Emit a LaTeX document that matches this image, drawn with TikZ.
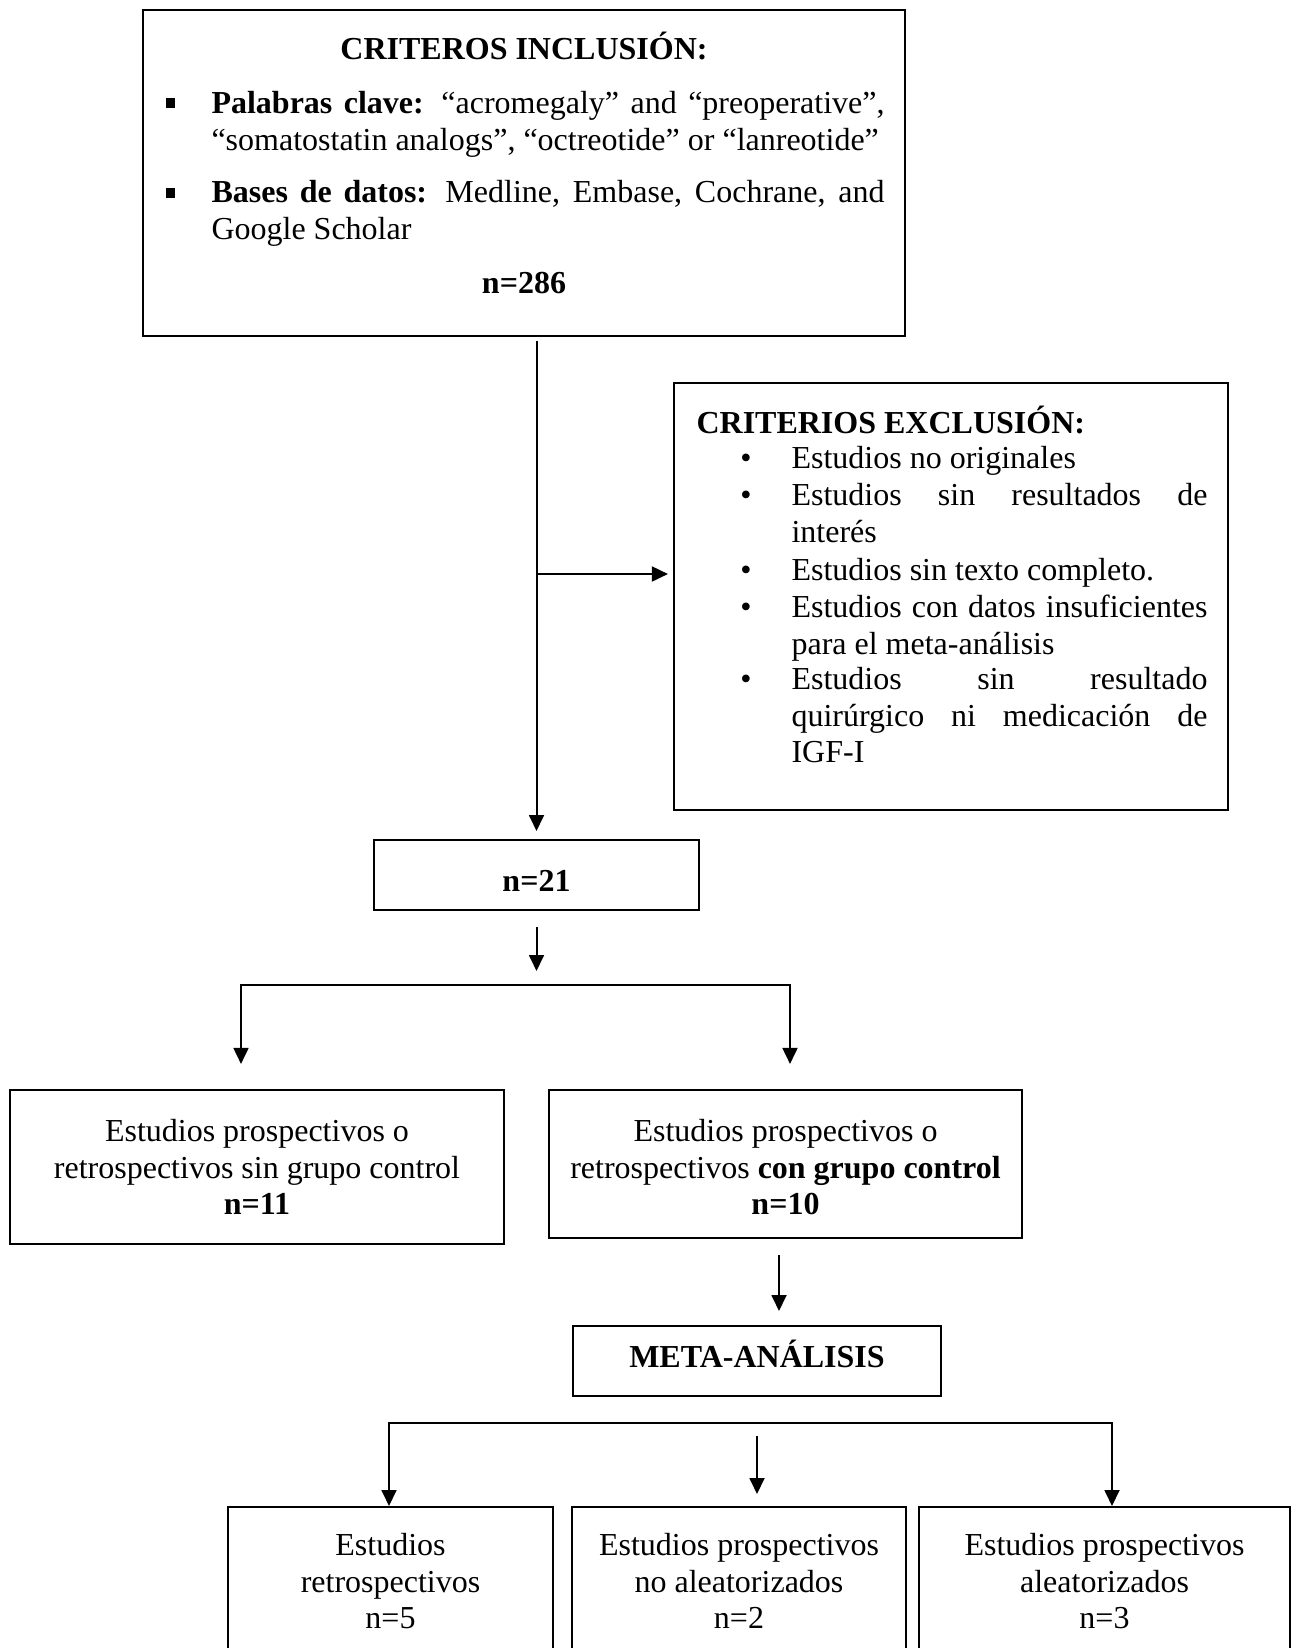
\documentclass[tikz,border=0pt]{standalone}
\usepackage{fontspec}
\setmainfont{Liberation Serif}
\usetikzlibrary{arrows.meta,calc}
\hyphenpenalty=10000
\exhyphenpenalty=10000
\tolerance=10000
\tikzset{
  every node/.style={font=\fontsize{12pt}{13.8pt}\selectfont, inner sep=0pt},
  bx/.style={draw, line width=0.75pt},
  bw/.style={minimum width={#1*0.375pt}},
  bh/.style={minimum height={#1*0.375pt}},
  arr/.style={-{Triangle[length=6pt,width=5.6pt]}, line width=0.75pt},
  para/.style={text width={#1*0.375pt}, align=justify, anchor=north west},
  ctr/.style={align=center, anchor=north}
}
\begin{document}
\begin{tikzpicture}[x=0.375pt,y=-0.375pt]
\useasboundingbox (0,0) rectangle (1292,1648);
\clip (0,0) rectangle (1292,1648);

% ---------- inclusion box
\node[bx, bw=762, bh=325] (inc) at (524,173) {};
\node[anchor=base] (inct) at (524,60) {\bfseries CRITEROS INCLUSIÓN:};
\node (sq1) at (170.5,103) {\rule{3.4pt}{3.4pt}};
\node[para=673] (inc1) at (211,87) {\strut\textbf{Palabras clave:} “acromegaly” and “preoperative”, “somatostatin analogs”, “octreotide” or “lanreotide”};
\node (sq2) at (170.5,193) {\rule{3.4pt}{3.4pt}};
\node[para=673] (inc2) at (211,176) {\strut\textbf{Bases de datos:} Medline, Embase, Cochrane, and Google Scholar};
\node[anchor=base] (n286) at (524,293) {\bfseries n=286};

% ---------- exclusion box
\node[bx, bw=554, bh=427] (exc) at (951,596.5) {};
\node[anchor=base west] (exct) at (696,433) {\bfseries CRITERIOS EXCLUSIÓN:};
\node[anchor=base] (b1) at (746,468) {•};
\node[para=416] (e1) at (791,442) {\strut Estudios no originales};
\node[anchor=base] (b2) at (746,505) {•};
\node[para=416] (e2) at (791,479) {\strut Estudios sin resultados de\linebreak interés};
\node[anchor=base] (b3) at (746,580) {•};
\node[para=416] (e3) at (791,554) {\strut Estudios sin texto completo.};
\node[anchor=base] (b4) at (746,617) {•};
\node[para=416] (e4) at (791,591) {\strut Estudios con datos insuficientes\linebreak para el meta-análisis};
\node[anchor=base] (b5) at (746,689) {•};
\node[para=416] (e5) at (791,663) {\strut Estudios sin resultado\linebreak quirúrgico ni medicación de\linebreak IGF-I};

% ---------- n=21
\node[bx, bw=325, bh=70] (n21) at (536.5,875) {};
\node[anchor=base] (n21t) at (536.5,891) {\bfseries n=21};

% ---------- second level
\node[bx, bw=493.5, bh=154] (lbox) at (257,1167) {};
\node[ctr] (lboxt) at (257,1115) {\strut Estudios prospectivos o\\retrospectivos sin grupo control\\\textbf{n=11}};
\node[bx, bw=473, bh=148] (rbox) at (785.5,1164) {};
\node[ctr] (rboxt) at (785.5,1115) {\strut Estudios prospectivos o\\retrospectivos \textbf{con grupo control}\\\textbf{n=10}};

% ---------- meta
\node[bx, bw=368, bh=70] (meta) at (757,1361) {};
\node[anchor=base] (metat) at (757,1367) {\bfseries META-ANÁLISIS};

% ---------- bottom boxes
\node[bx, bw=325, bh=163] (c1) at (390.5,1588.5) {};
\node[ctr] (c1t) at (390.5,1529) {\strut Estudios\\retrospectivos\\n=5};
\node[bx, bw=334, bh=163] (c2) at (739,1588.5) {};
\node[ctr] (c2t) at (739,1529) {\strut Estudios prospectivos\\no aleatorizados\\n=2};
\node[bx, bw=371, bh=163] (c3) at (1104.5,1588.5) {};
\node[ctr] (c3t) at (1104.5,1529) {\strut Estudios prospectivos\\aleatorizados\\n=3};

% ---------- connectors
\coordinate (br) at (536.5,574);
\draw[arr, shorten <=1.5pt, shorten >=3pt] (n21.north |- inc.south) -- (n21.north);
\draw[arr, shorten >=1.9pt] (br) -- (exc.west |- br);

\coordinate (split) at (536.5,985);
\coordinate (barL) at (241,985);
\coordinate (barR) at (790,985);
\draw[arr, shorten <=6pt, shorten >=5.25pt] (n21.south) -- (split);
\draw[arr, shorten >=9.4pt] (barR) -- (barL) -- (barL |- lbox.north);
\draw[arr, line cap=rect, shorten >=9.4pt] (barR) -- (barR |- rbox.north);

\coordinate (mx) at (779,1254);
\draw[arr, shorten <=6pt, shorten >=5.25pt] (rbox.south -| mx) -- (meta.north -| mx);

\coordinate (mbarL) at (389,1423);
\coordinate (mbarR) at (1112,1423);
\draw[arr] (mbarR) -- (mbarL) -- (mbarL |- c1.north);
\draw[arr, line cap=rect] (mbarR) -- (mbarR |- c3.north);
\draw[arr, shorten <=14.6pt, shorten >=4.5pt] (meta.south) -- (meta.south |- c2.north);
\end{tikzpicture}
\end{document}
